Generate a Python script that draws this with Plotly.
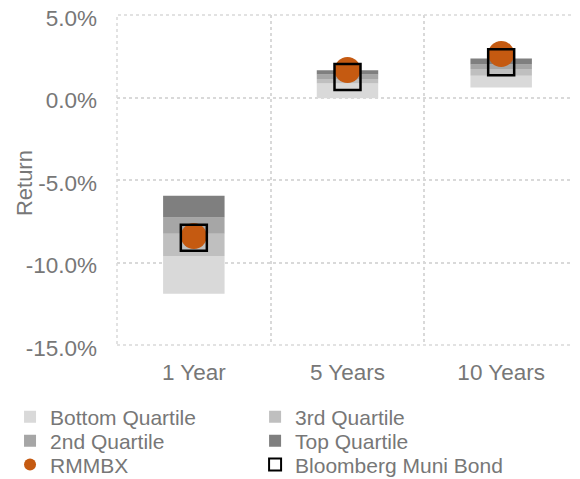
import plotly.graph_objects as go

# Peer-group return ranges (percent) per horizon, plus fund and benchmark.
periods = ["1 Year", "5 Years", "10 Years"]
q_min = [-11.9, -0.05, 0.6]
q_25 = [-9.6, 0.85, 1.32]
q_50 = [-8.25, 1.12, 1.72]
q_75 = [-7.27, 1.40, 2.0]
q_max = [-5.95, 1.65, 2.36]
rmmbx = [-8.4, 1.67, 2.64]
bloomberg = [-8.5, 1.25, 2.13]

y_ticks = [5, 0, -5, -10, -15]
y_tick_labels = ["5.0%", "0.0%", "-5.0%", "-10.0%", "-15.0%"]

TEXT = "#777777"
GRID = "#D9D9D9"

# name, lower edge, upper edge, colour, legend slot
bands = [
    ("Bottom Quartile", q_min, q_25, "#D9D9D9", "legend"),
    ("3rd Quartile", q_25, q_50, "#BFBFBF", "legend2"),
    ("2nd Quartile", q_50, q_75, "#A6A6A6", "legend3"),
    ("Top Quartile", q_75, q_max, "#7F7F7F", "legend4"),
]

fig = go.Figure()
for name, lo, hi, color, leg in bands:
    fig.add_bar(
        x=periods,
        y=[h - l for l, h in zip(lo, hi)],
        base=lo,
        name=name,
        legend=leg,
        marker=dict(color=color, line=dict(width=0)),
        width=0.4,
    )

fig.add_trace(
    go.Scatter(
        x=periods,
        y=rmmbx,
        mode="markers",
        name="RMMBX",
        legend="legend5",
        marker=dict(symbol="circle", size=26, color="#C55A11"),
    )
)
fig.add_trace(
    go.Scatter(
        x=periods,
        y=bloomberg,
        mode="markers",
        name="Bloomberg Muni Bond",
        legend="legend6",
        marker=dict(symbol="square", size=26, color="rgba(0,0,0,0)", line=dict(color="black", width=2.5)),
    )
)


# one single-entry legend per slot -> two columns, three rows
def slot(x, y):
    return dict(
        xref="container",
        yref="container",
        x=x,
        y=y,
        xanchor="left",
        yanchor="middle",
        itemsizing="constant",
        font=dict(size=21, color=TEXT),
        bgcolor="rgba(0,0,0,0)",
    )


col1, col2 = 0.0035, 0.426
row1, row2, row3 = 0.146, 0.096, 0.046

# dotted frame round the plot area
fig.add_shape(
    type="rect", xref="paper", yref="paper", x0=0, y0=0, x1=1, y1=1,
    line=dict(color=GRID, width=1.5, dash="dot"), layer="below",
)

# y-axis title
fig.add_annotation(
    text="Return", xref="paper", yref="paper", x=-0.2, y=0.49,
    xanchor="center", yanchor="middle",
    textangle=-90, showarrow=False, font=dict(size=22, color=TEXT),
)

fig.update_layout(
    width=580,
    height=479,
    margin=dict(l=109, r=10, t=7, b=142, autoexpand=False),
    plot_bgcolor="white",
    paper_bgcolor="white",
    barmode="overlay",
    font=dict(family="Arial, Liberation Sans", size=22.5, color=TEXT),
    showlegend=True,
    legend=slot(col1, row1),
    legend2=slot(col2, row1),
    legend3=slot(col1, row2),
    legend4=slot(col2, row2),
    legend5=slot(col1, row3),
    legend6=slot(col2, row3),
    xaxis=dict(
        type="category",
        tickson="boundaries",
        showgrid=True,
        gridcolor=GRID,
        griddash="dot",
        gridwidth=1.5,
        ticks="",
        ticklabelstandoff=11,
        showline=False,
        zeroline=False,
        range=[-0.5, 2.5],
    ),
    yaxis=dict(
        range=[-15, 5],
        tickvals=y_ticks,
        ticktext=y_tick_labels,
        showgrid=True,
        gridcolor=GRID,
        griddash="dot",
        gridwidth=1.5,
        zeroline=False,
        ticks="",
        ticklabelstandoff=19,
        ticklabelshift=3,
        ticklabeloverflow="allow",
    ),
)

fig.write_html("out.html")
